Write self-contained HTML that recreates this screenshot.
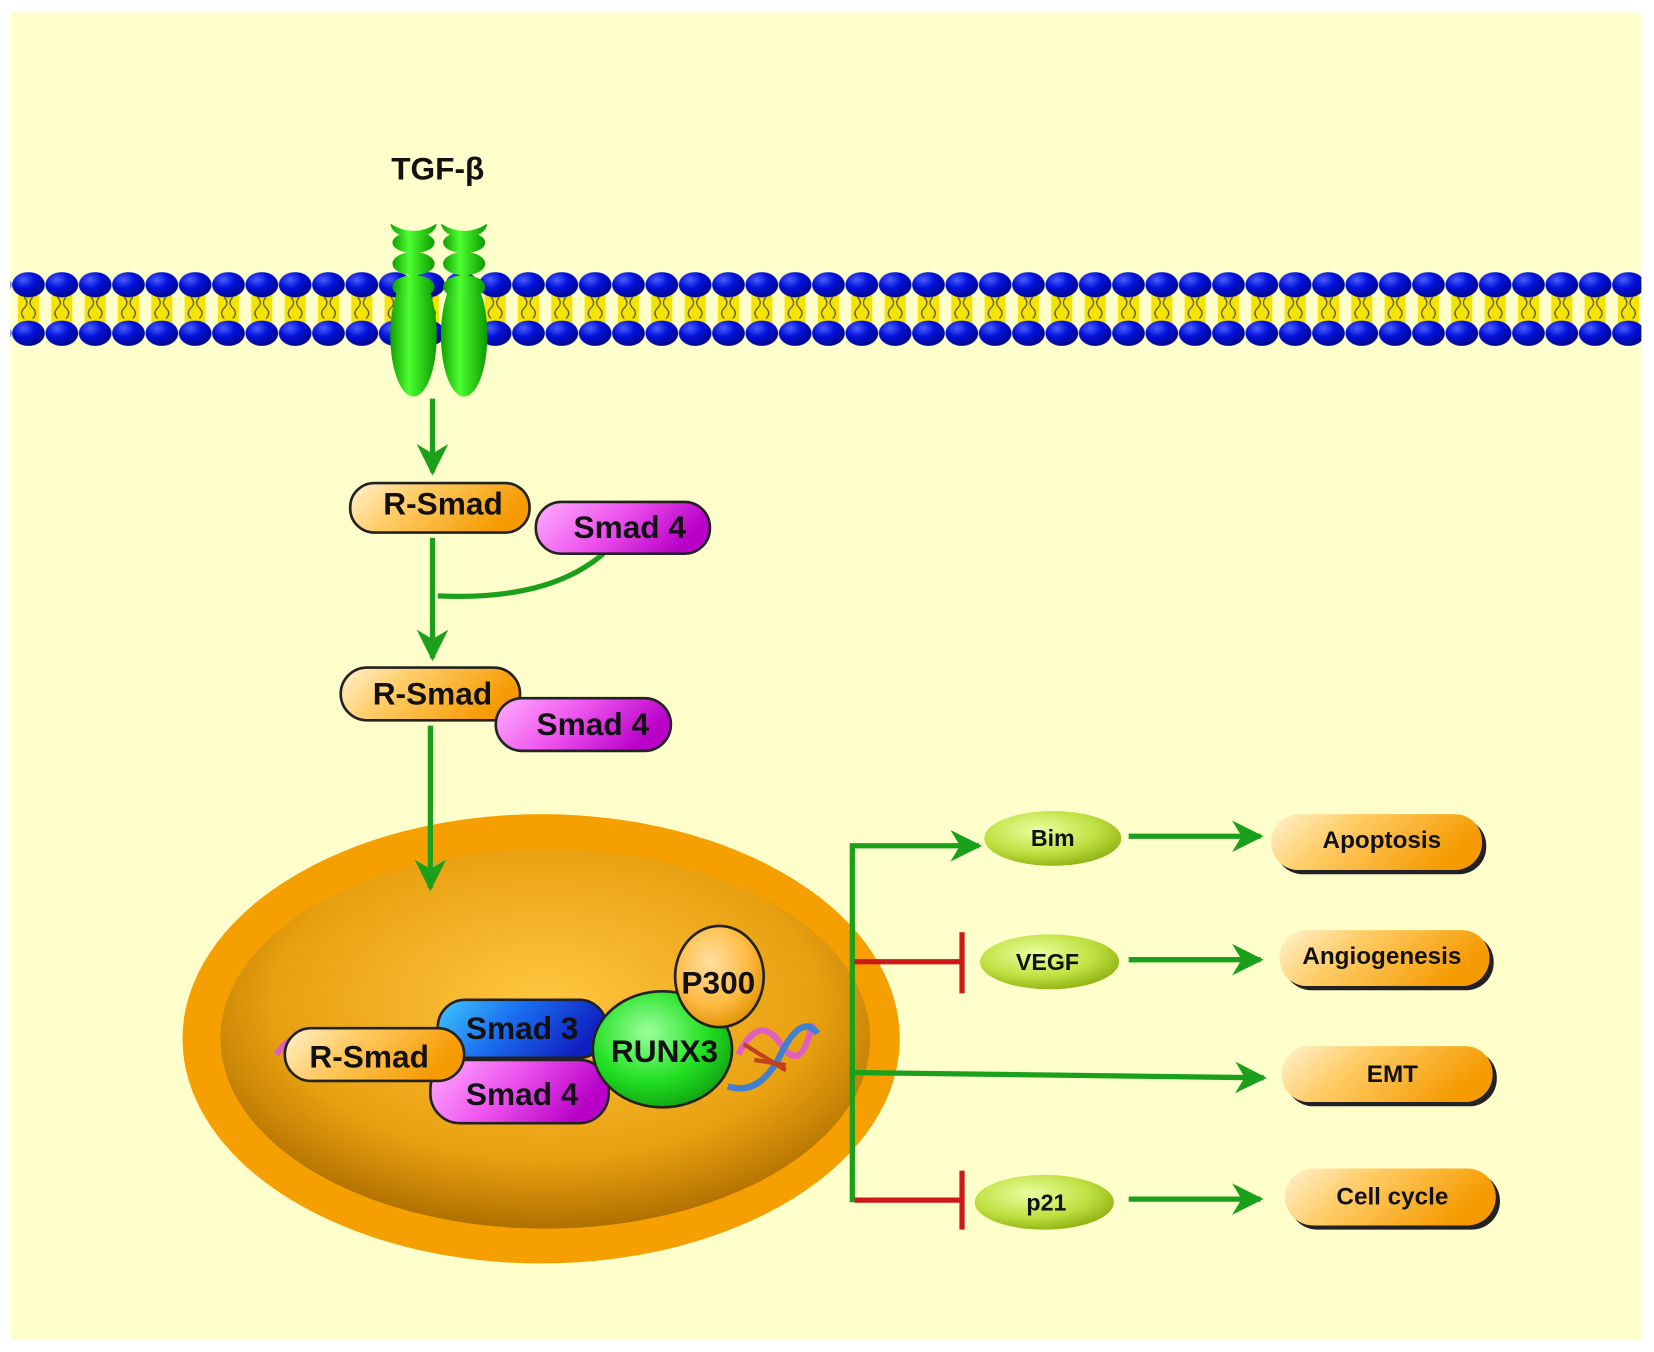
<!DOCTYPE html>
<html><head><meta charset="utf-8"><style>
html,body{margin:0;padding:0;background:#fff;}
svg{display:block;}
text{font-family:"Liberation Sans",Arial,sans-serif;font-weight:bold;fill:#111;}
</style></head><body>
<svg width="1654" height="1352" viewBox="0 0 1568 1282" preserveAspectRatio="none" xmlns="http://www.w3.org/2000/svg">
<defs>
 <radialGradient id="blue" cx="35%" cy="30%" r="70%"><stop offset="0" stop-color="#4a5cff"/><stop offset="0.5" stop-color="#0010d8"/><stop offset="1" stop-color="#000890"/></radialGradient>
 <pattern id="heads" x="11" y="0" width="31.6" height="400" patternUnits="userSpaceOnUse">
  <rect x="6" y="280" width="20" height="26" fill="#f5e400"/>
  <path d="M12 282 q5 5 0 10 q-5 5 0 10 M20 282 q-5 5 0 10 q5 5 0 10" stroke="#555" stroke-width="1.2" fill="none"/>
  <ellipse cx="16" cy="270" rx="15.5" ry="12" fill="url(#blue)"/>
  <ellipse cx="16" cy="316" rx="15.5" ry="12" fill="url(#blue)"/>
 </pattern>
 <linearGradient id="grn" x1="0" x2="1"><stop offset="0" stop-color="#12a000"/><stop offset="0.4" stop-color="#4cff30"/><stop offset="1" stop-color="#0c9a00"/></linearGradient>
 <linearGradient id="org" x1="0" y1="0" x2="1" y2="0.3"><stop offset="0" stop-color="#fff2d0"/><stop offset="0.4" stop-color="#ffcc66"/><stop offset="1" stop-color="#f59a00"/></linearGradient>
 <linearGradient id="mag" x1="0" y1="0" x2="1" y2="0.3"><stop offset="0" stop-color="#ffb0ff"/><stop offset="0.5" stop-color="#ee55ee"/><stop offset="1" stop-color="#b800c8"/></linearGradient>
 <linearGradient id="blu" x1="0" y1="0" x2="1" y2="0.3"><stop offset="0" stop-color="#40c8ff"/><stop offset="0.5" stop-color="#1a6cf0"/><stop offset="1" stop-color="#1020c0"/></linearGradient>
 <radialGradient id="lime" cx="40%" cy="35%" r="70%"><stop offset="0" stop-color="#eaffa0"/><stop offset="0.6" stop-color="#bfe040"/><stop offset="1" stop-color="#8cb010"/></radialGradient>
 <radialGradient id="nuc" cx="50%" cy="40%" r="60%"><stop offset="0" stop-color="#ffc640"/><stop offset="0.7" stop-color="#e8a010"/><stop offset="1" stop-color="#b07000"/></radialGradient>
 <radialGradient id="runx" cx="40%" cy="35%" r="70%"><stop offset="0" stop-color="#9cff9c"/><stop offset="0.6" stop-color="#22e022"/><stop offset="1" stop-color="#10a010"/></radialGradient>
 <radialGradient id="p300" cx="40%" cy="35%" r="70%"><stop offset="0" stop-color="#ffe0a0"/><stop offset="0.6" stop-color="#ffbb44"/><stop offset="1" stop-color="#e09000"/></radialGradient>
 <marker id="ah" viewBox="0 0 10 10" refX="9" refY="5" markerWidth="6" markerHeight="6" orient="auto" markerUnits="strokeWidth"><path d="M0 0 L10 5 L0 10 L3 5 z" fill="#1aa01a"/></marker>
</defs>
<rect width="1568" height="1282" fill="#fff"/>
<rect x="10" y="12" width="1546" height="1258" fill="#ffffcc"/>
<rect x="10" y="250" width="1546" height="90" fill="url(#heads)"/>

<g fill="url(#grn)">
 <ellipse cx="392" cy="318" rx="22" ry="58"/><ellipse cx="440" cy="318" rx="22" ry="58"/>
 <ellipse cx="392" cy="272" rx="20" ry="11"/><ellipse cx="440" cy="272" rx="20" ry="11"/>
 <ellipse cx="392" cy="250" rx="20" ry="11"/><ellipse cx="440" cy="250" rx="20" ry="11"/>
 <ellipse cx="392" cy="230" rx="20" ry="10"/><ellipse cx="440" cy="230" rx="20" ry="10"/>
 <path d="M370 212 q22 14 44 0 q-2 12 -22 14 q-20 -2 -22 -14z"/><path d="M418 212 q22 14 44 0 q-2 12 -22 14 q-20 -2 -22 -14z"/>
</g>
<text x="415" y="170" font-size="30" text-anchor="middle">TGF-β</text>

<g stroke="#1aa01a" stroke-width="5" fill="none">
 <line x1="410" y1="378" x2="410" y2="448" marker-end="url(#ah)"/>
 <line x1="410" y1="510" x2="410" y2="624" marker-end="url(#ah)"/>
 <path d="M415 565 Q520 570 572 525"/>
</g>

<g stroke="#222" stroke-width="2.5">
 <rect x="332" y="458" width="170" height="47" rx="23" fill="url(#org)"/>
 <rect x="508" y="476" width="165" height="49" rx="24" fill="url(#mag)"/>
 <rect x="323" y="633" width="170" height="50" rx="25" fill="url(#org)"/>
 <rect x="470" y="662" width="166" height="50" rx="25" fill="url(#mag)"/>
</g>
<text x="420" y="488" font-size="30" text-anchor="middle">R-Smad</text>
<text x="597" y="510" font-size="30" text-anchor="middle">Smad 4</text>
<text x="410" y="668" font-size="30" text-anchor="middle">R-Smad</text>
<text x="562" y="697" font-size="30" text-anchor="middle">Smad 4</text>

<ellipse cx="513" cy="985" rx="340" ry="213" fill="#f5a000"/>
<ellipse cx="517" cy="985" rx="308" ry="180" fill="url(#nuc)"/>
<line x1="408" y1="688" x2="408" y2="842" stroke="#1aa01a" stroke-width="5" marker-end="url(#ah)"/>
<g fill="none" stroke-width="6">
 <path d="M262 1000 q20 -30 40 0 t40 0 t40 0 t40 0 t40 0" stroke="#e060c0"/>
 <path d="M700 1000 q20 -40 40 -10 t30 -20" stroke="#e060c0"/>
 <path d="M690 1030 q30 10 50 -30 t35 -20" stroke="#4080d0"/>
 <path d="M705 990 l40 25 M715 1005 l30 5" stroke="#c04020" stroke-width="4"/>
</g>
<g stroke="#222" stroke-width="2.5">
 <rect x="408" y="1005" width="169" height="60" rx="28" fill="url(#mag)"/>
 <rect x="415" y="948" width="160" height="55" rx="26" fill="url(#blu)"/>
 <rect x="270" y="975" width="170" height="50" rx="25" fill="url(#org)"/>
 <ellipse cx="628" cy="995" rx="66" ry="55" fill="url(#runx)"/>
 <ellipse cx="682" cy="926" rx="42" ry="48" fill="url(#p300)"/>
</g>
<text x="350" y="1012" font-size="30" text-anchor="middle">R-Smad</text>
<text x="495" y="985" font-size="30" text-anchor="middle">Smad 3</text>
<text x="495" y="1048" font-size="30" text-anchor="middle">Smad 4</text>
<text x="630" y="1007" font-size="30" text-anchor="middle">RUNX3</text>
<text x="681" y="942" font-size="30" text-anchor="middle">P300</text>

<g stroke="#1aa01a" stroke-width="5" fill="none">
 <line x1="808" y1="800" x2="808" y2="1140"/>
 <line x1="806" y1="802" x2="928" y2="802" marker-end="url(#ah)"/>
 <line x1="808" y1="1017" x2="1198" y2="1022" marker-end="url(#ah)"/>
 <line x1="1070" y1="793" x2="1195" y2="793" marker-end="url(#ah)"/>
 <line x1="1070" y1="910" x2="1195" y2="910" marker-end="url(#ah)"/>
 <line x1="1070" y1="1137" x2="1195" y2="1137" marker-end="url(#ah)"/>
</g>
<g stroke="#cc1a1a" stroke-width="5" fill="none">
 <line x1="810" y1="912" x2="912" y2="912"/><line x1="912" y1="884" x2="912" y2="942"/>
 <line x1="810" y1="1138" x2="912" y2="1138"/><line x1="912" y1="1110" x2="912" y2="1166"/>
</g>
<ellipse cx="998" cy="795" rx="65" ry="26" fill="url(#lime)"/>
<ellipse cx="995" cy="912" rx="66" ry="26" fill="url(#lime)"/>
<ellipse cx="990" cy="1140" rx="66" ry="26" fill="url(#lime)"/>
<text x="998" y="802" font-size="22" text-anchor="middle">Bim</text>
<text x="993" y="920" font-size="22" text-anchor="middle">VEGF</text>
<text x="992" y="1148" font-size="22" text-anchor="middle">p21</text>

<g fill="#222">
 <rect x="1209" y="776" width="200" height="53" rx="26"/>
 <rect x="1217" y="886" width="199" height="53" rx="26"/>
 <rect x="1219" y="996" width="200" height="53" rx="26"/>
 <rect x="1222" y="1112" width="200" height="54" rx="27"/>
</g>
<g>
 <rect x="1205" y="772" width="200" height="53" rx="26" fill="url(#org)"/>
 <rect x="1213" y="882" width="199" height="53" rx="26" fill="url(#org)"/>
 <rect x="1215" y="992" width="200" height="53" rx="26" fill="url(#org)"/>
 <rect x="1218" y="1108" width="200" height="54" rx="27" fill="url(#org)"/>
</g>
<text x="1310" y="804" font-size="23" text-anchor="middle">Apoptosis</text>
<text x="1310" y="914" font-size="23" text-anchor="middle">Angiogenesis</text>
<text x="1320" y="1026" font-size="23" text-anchor="middle">EMT</text>
<text x="1320" y="1142" font-size="23" text-anchor="middle">Cell cycle</text>
</svg>
</body></html>
